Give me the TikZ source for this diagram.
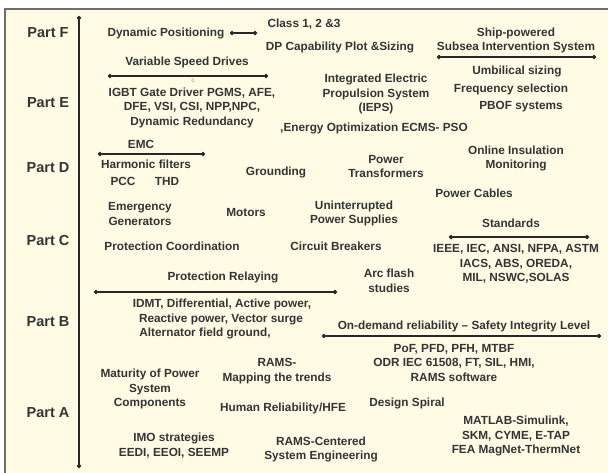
\documentclass[tikz,border=0pt]{standalone}
\usepackage{fontspec}
\setmainfont{Liberation Sans}
\usetikzlibrary{arrows.meta}
\definecolor{cream}{RGB}{255,251,228}
\definecolor{framegray}{RGB}{110,110,110}
\definecolor{ink}{RGB}{52,52,52}
\definecolor{lineink}{RGB}{40,40,40}
\tikzset{
  txt/.style={text=ink, font=\fontsize{11.8}{14.5}\selectfont\bfseries, align=center, inner sep=0pt, anchor=center},
  part/.style={text=ink, font=\fontsize{14.5}{16}\selectfont\bfseries, inner sep=0pt, anchor=center},
  dotline/.style={draw=lineink, line width=1.4pt, {Circle[length=4.2pt]}-{Circle[length=4.2pt]}},
}
\begin{document}
\begin{tikzpicture}[x=1pt,y=-1pt]
\useasboundingbox (0,0) rectangle (608,472);
\clip (0,0) rectangle (608,472);
\filldraw[fill=cream, draw=framegray, line width=2.4pt] (5,9) rectangle (614,480);

% part labels
\node[part] (partF) at (48,33) {Part F};
\node[part] (partE) at (48,103) {Part E};
\node[part] (partD) at (48,168) {Part D};
\node[part] (partC) at (48,241) {Part C};
\node[part] (partB) at (48,322) {Part B};
\node[part] (partA) at (48,413) {Part A};

% vertical axis
\coordinate (axTop) at (79,16);
\coordinate (axBot) at (79,468);
\draw[dotline] (axTop) -- (axBot);

% Part F
\node[txt] (dp) at (166,33) {Dynamic Positioning};
\coordinate (dpL) at (230,33);
\coordinate (dpR) at (257,33);
\draw[dotline] (dpL) -- (dpR);
\node[txt] (cls) at (304,24) {Class 1, 2 \&3};
\node[txt] (dpcap) at (340,47) {DP Capability Plot \&Sizing};
\node[txt] (ship) at (516,40.5) {Ship-powered\\Subsea Intervention System};
\coordinate (shipL) at (437,57);
\coordinate (shipR) at (596,57);
\draw[dotline] (shipL) -- (shipR);

% Part E
\node[txt] (vsd) at (187,62) {Variable Speed Drives};
\coordinate (vsdL) at (108,76);
\coordinate (vsdR) at (268,76);
\draw[dotline] (vsdL) -- (vsdR);
\node[text=ink!60, font=\fontsize{5}{5}\selectfont, inner sep=0pt] (zero) at (193,81) {0};
\node[txt] (igbt) at (192,107.5) {IGBT Gate Driver PGMS, AFE,\\DFE, VSI, CSI, NPP,NPC,\\Dynamic Redundancy};
\node[txt] (ieps) at (376,94) {Integrated Electric\\Propulsion System\\(IEPS)};
\node[txt] (umb) at (517,71) {Umbilical sizing};
\node[txt] (freq) at (511,89) {Frequency selection};
\node[txt] (pbof) at (521,107) {PBOF systems};
\node[txt] (energy) at (374,128) {,Energy Optimization ECMS- PSO};

% Part D
\node[txt] (emc) at (141,144) {EMC};
\coordinate (emcL) at (98,154);
\coordinate (emcR) at (205,154);
\draw[dotline] (emcL) -- (emcR);
\node[txt] (harm) at (146,164) {Harmonic filters};
\node[txt] (pcc) at (123,181) {PCC};
\node[txt] (thd) at (167,181) {THD};
\node[txt] (ground) at (276,172) {Grounding};
\node[txt] (powtr) at (386,166.5) {Power\\Transformers};
\node[txt] (online) at (516,158.5) {Online Insulation\\Monitoring};
\node[txt] (cables) at (474,193) {Power Cables};

% Part C
\node[txt] (emerg) at (140,214) {Emergency\\Generators};
\node[txt] (motors) at (246,212) {Motors};
\node[txt] (ups) at (354,213.5) {Uninterrupted\\Power Supplies};
\node[txt] (std) at (511,223) {Standards};
\coordinate (stdL) at (449,237);
\coordinate (stdR) at (589,237);
\draw[dotline] (stdL) -- (stdR);
\node[txt] (stdlist) at (516,264) {IEEE, IEC, ANSI, NFPA, ASTM\\IACS, ABS, OREDA,\\MIL, NSWC,SOLAS};
\node[txt] (protc) at (172,246) {Protection Coordination};
\node[txt] (cb) at (336,246) {Circuit Breakers};
\node[txt] (relay) at (223,277) {Protection Relaying};
\node[txt] (arc) at (389,281) {Arc flash\\studies};
\coordinate (relL) at (94,292);
\coordinate (relR) at (337,292);
\draw[dotline] (relL) -- (relR);

% Part B
\node[txt] (idmtA) at (222,304) {IDMT, Differential, Active power,};
\node[txt] (idmtB) at (221,319) {Reactive power, Vector surge};
\node[txt] (idmtC) at (205,333) {Alternator field ground,};
\node[txt] (ondem) at (464,326) {On-demand reliability -- Safety Integrity Level};
\coordinate (odL) at (322,336);
\coordinate (odR) at (601,336);
\draw[dotline] (odL) -- (odR);
\node[txt] (pof) at (454,362.5) {PoF, PFD, PFH, MTBF\\ODR IEC 61508, FT, SIL, HMI,\\RAMS software};

% Part A
\node[txt] (matur) at (150,389) {Maturity of Power\\System\\Components};
\node[txt] (rams) at (277,371) {RAMS-\\Mapping the trends};
\node[txt] (human) at (283,408) {Human Reliability/HFE};
\node[txt] (design) at (407,403) {Design Spiral};
\node[txt] (matlab) at (516,436) {MATLAB-Simulink,\\SKM, CYME, E-TAP\\FEA MagNet-ThermNet};
\node[txt] (imo) at (174,445.5) {IMO strategies\\EEDI, EEOI, SEEMP};
\node[txt] (ramsc) at (321,449.5) {RAMS-Centered\\System Engineering};
\end{tikzpicture}
\end{document}
